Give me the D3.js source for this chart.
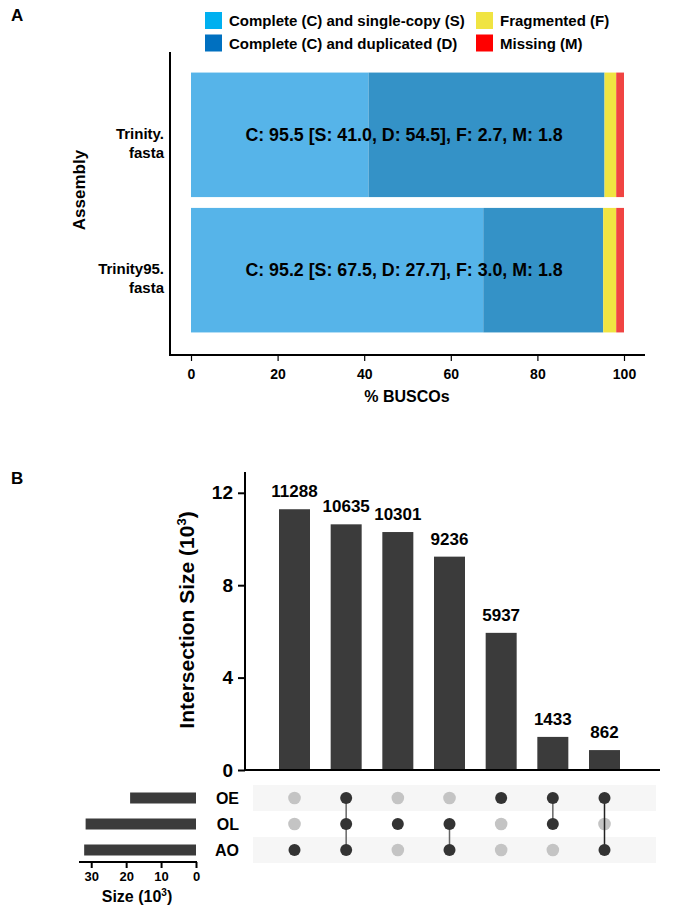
<!DOCTYPE html>
<html>
<head>
<meta charset="utf-8">
<script src="https://cdn.jsdelivr.net/npm/d3@7"></script>
<style>
  html, body { margin: 0; padding: 0; background: #fff; }
  svg { display: block; }
  text { font-family: "Liberation Sans", Arial, Helvetica, sans-serif; font-weight: bold; fill: #000; }
</style>
</head>
<body>
<svg id="chart" width="685" height="916"></svg>
<script>
// ---------------- Panel A data ----------------
const assemblies = ["Trinity.fasta", "Trinity95.fasta"];
const assemblyLines = [["Trinity.", "fasta"], ["Trinity95.", "fasta"]];
const singleCopy = [41.0, 67.5];
const duplicated = [54.5, 27.7];
const fragmented = [2.7, 3.0];
const missing = [1.8, 1.8];
const buscoTicks = [0, 20, 40, 60, 80, 100];
const legendLabels = ["Complete (C) and single-copy (S)", "Complete (C) and duplicated (D)", "Fragmented (F)", "Missing (M)"];

// ---------------- Panel B data ----------------
const setNames = ["OE", "OL", "AO"];
const setSizes = [18867, 31605, 32021];
const intersectionSizes = [11288, 10635, 10301, 9236, 5937, 1433, 862];
const intersectionSets = [["AO"], ["OE", "OL", "AO"], ["OL"], ["OL", "AO"], ["OE"], ["OE", "OL"], ["OE", "AO"]];
const intersectionTicks = [0, 4, 8, 12];
const sizeTicks = [30, 20, 10, 0];

const svg = d3.select("#chart");

// ================= PANEL A =================
svg.append("text").attr("x", 11).attr("y", 21).attr("font-size", 17).text("A");

const barColors = ["#56B4E9", "#3492C7", "#F0E442", "#F04442"];
const legendColors = ["#00B0F0", "#0070C0", "#F0E442", "#FF0000"];

// legend
const legendPos = [[205, 12], [205, 34.5], [476, 12], [476, 34.5]];
const lg = svg.append("g");
legendLabels.forEach((lab, i) => {
  const [lx, ly] = legendPos[i];
  lg.append("rect").attr("x", lx).attr("y", ly).attr("width", 17).attr("height", 17).attr("fill", legendColors[i]);
  lg.append("text").attr("x", lx + 24).attr("y", ly + 14).attr("font-size", 15).text(lab);
});

const xA = d3.scaleLinear().domain([0, 100]).range([191, 624]);
const yA = d3.scaleBand().domain(assemblies).range([68.5, 336.5]).paddingInner(0.08).paddingOuter(0.03);

const rowsA = assemblies.map((a, i) => ({ name: a, S: singleCopy[i], D: duplicated[i], F: fragmented[i], M: missing[i] }));
const stackA = d3.stack().keys(["S", "D", "F", "M"])(rowsA);

svg.append("g").selectAll("g").data(stackA).join("g")
  .attr("fill", (d, i) => barColors[i])
  .selectAll("rect").data(d => d).join("rect")
  .attr("x", d => xA(d[0]))
  .attr("width", d => xA(d[1]) - xA(d[0]))
  .attr("y", d => yA(d.data.name))
  .attr("height", yA.bandwidth());

// bar annotations
rowsA.forEach((r, i) => {
  const c = (r.S + r.D).toFixed(1);
  const label = `C: ${c} [S: ${r.S.toFixed(1)}, D: ${r.D.toFixed(1)}], F: ${r.F.toFixed(1)}, M: ${r.M.toFixed(1)}`;
  svg.append("text")
    .attr("x", xA(49.2))
    .attr("y", yA(r.name) + yA.bandwidth() / 2 + 6)
    .attr("text-anchor", "middle")
    .attr("font-size", 17.8)
    .text(label);
});

// y category labels
assemblies.forEach((a, i) => {
  const cy = yA(a) + yA.bandwidth() / 2;
  const t = svg.append("text").attr("text-anchor", "end").attr("font-size", 15);
  assemblyLines[i].forEach((ln, j) => {
    t.append("tspan").attr("x", 164).attr("y", cy + 4 + j * 19).text(ln);
  });
});

// axes A
svg.append("line").attr("x1", 170).attr("x2", 170).attr("y1", 52).attr("y2", 356)
  .attr("stroke", "#000").attr("stroke-width", 2);
svg.append("line").attr("x1", 169).attr("x2", 645).attr("y1", 355).attr("y2", 355)
  .attr("stroke", "#000").attr("stroke-width", 2);

const axA = svg.append("g").attr("transform", "translate(0,355)")
  .call(d3.axisBottom(xA).tickValues(buscoTicks).tickSize(6).tickPadding(8));
axA.select(".domain").remove();
axA.selectAll(".tick line").attr("stroke", "#000").attr("stroke-width", 1.2);
axA.selectAll(".tick text").attr("font-size", 14).attr("font-family", null).attr("fill", "#000");

svg.append("text").attr("x", 407).attr("y", 402).attr("text-anchor", "middle").attr("font-size", 16).text("% BUSCOs");
svg.append("text").attr("transform", "translate(85,190) rotate(-90)").attr("text-anchor", "middle")
  .attr("font-size", 17).text("Assembly");

// ================= PANEL B =================
svg.append("text").attr("x", 11).attr("y", 484).attr("font-size", 17).text("B");

const xB = d3.scaleBand().domain(d3.range(intersectionSizes.length)).range([248, 651]).paddingInner(0.4).paddingOuter(0.6);
const yB = d3.scaleLinear().domain([0, 12.9]).range([770, 472]);

const barFill = "#3b3b3b";
svg.append("g").selectAll("rect").data(intersectionSizes).join("rect")
  .attr("x", (d, i) => xB(i))
  .attr("width", xB.bandwidth())
  .attr("y", d => yB(d / 1000))
  .attr("height", d => yB(0) - yB(d / 1000))
  .attr("fill", barFill);

svg.append("g").selectAll("text").data(intersectionSizes).join("text")
  .attr("x", (d, i) => xB(i) + xB.bandwidth() / 2)
  .attr("y", d => yB(d / 1000) - 12)
  .attr("text-anchor", "middle")
  .attr("font-size", 17)
  .text(d => d);

// axes B
const axB = svg.append("g").attr("transform", "translate(245,0)")
  .call(d3.axisLeft(yB).tickValues(intersectionTicks).tickSize(7).tickPadding(5));
axB.select(".domain").remove();
axB.selectAll(".tick line").attr("stroke", "#000").attr("stroke-width", 2);
axB.selectAll(".tick text").attr("font-size", 19).attr("font-family", null).attr("fill", "#000");
svg.append("line").attr("x1", 245).attr("x2", 245).attr("y1", 472).attr("y2", 771)
  .attr("stroke", "#000").attr("stroke-width", 2);
svg.append("line").attr("x1", 244).attr("x2", 660).attr("y1", 770).attr("y2", 770)
  .attr("stroke", "#000").attr("stroke-width", 2);

const ttl = svg.append("text").attr("transform", "translate(194,620) rotate(-90)")
  .attr("text-anchor", "middle").attr("font-size", 21);
ttl.append("tspan").text("Intersection Size (10");
ttl.append("tspan").attr("font-size", 13).attr("dy", -8).text("3");
ttl.append("tspan").attr("dy", 8).text(")");

// matrix
const yRows = d3.scalePoint().domain(setNames).range([798, 850]);
const rowH = 26;
setNames.forEach((s, i) => {
  if (i % 2 === 0) {
    svg.append("rect").attr("x", 253).attr("width", 403)
      .attr("y", yRows(s) - rowH / 2).attr("height", rowH).attr("fill", "#f6f6f6");
  }
});

const cells = [];
intersectionSets.forEach((sets, i) => {
  setNames.forEach(s => cells.push({ col: i, set: s, on: sets.includes(s) }));
});

svg.append("g").selectAll("circle").data(cells.filter(c => !c.on)).join("circle")
  .attr("cx", d => xB(d.col) + xB.bandwidth() / 2)
  .attr("cy", d => yRows(d.set))
  .attr("r", 6.3)
  .attr("fill", "#c4c4c4");

intersectionSets.forEach((sets, i) => {
  if (sets.length > 1) {
    const ys = sets.map(s => yRows(s));
    svg.append("line")
      .attr("x1", xB(i) + xB.bandwidth() / 2).attr("x2", xB(i) + xB.bandwidth() / 2)
      .attr("y1", d3.min(ys)).attr("y2", d3.max(ys))
      .attr("stroke", i === 6 ? "#222" : "#666").attr("stroke-width", 1.5);
  }
});

svg.append("g").selectAll("circle").data(cells.filter(c => c.on)).join("circle")
  .attr("cx", d => xB(d.col) + xB.bandwidth() / 2)
  .attr("cy", d => yRows(d.set))
  .attr("r", 6)
  .attr("fill", "#333");

// set labels
svg.append("g").selectAll("text").data(setNames).join("text")
  .attr("x", 239).attr("y", d => yRows(d) + 6)
  .attr("text-anchor", "end").attr("font-size", 16).text(d => d);

// set size bars
const xS = d3.scaleLinear().domain([0, 33.5]).range([196, 79]);
svg.append("g").selectAll("rect").data(setSizes).join("rect")
  .attr("x", d => xS(d / 1000))
  .attr("width", d => xS(0) - xS(d / 1000))
  .attr("y", (d, i) => yRows(setNames[i]) - 5.5)
  .attr("height", 11)
  .attr("fill", barFill);

const axS = svg.append("g").attr("transform", "translate(0,862)")
  .call(d3.axisBottom(xS).tickValues(sizeTicks).tickSize(6).tickPadding(4));
axS.select(".domain").remove();
axS.selectAll(".tick line").attr("stroke", "#000").attr("stroke-width", 2);
axS.selectAll(".tick text").attr("font-size", 13).attr("font-family", null).attr("fill", "#000");
svg.append("line").attr("x1", 79).attr("x2", 197).attr("y1", 862).attr("y2", 862)
  .attr("stroke", "#000").attr("stroke-width", 2);

const st = svg.append("text").attr("x", 137).attr("y", 902).attr("text-anchor", "middle").attr("font-size", 16);
st.append("tspan").text("Size (10");
st.append("tspan").attr("font-size", 10).attr("dy", -6).text("3");
st.append("tspan").attr("dy", 6).text(")");
</script>
</body>
</html>
